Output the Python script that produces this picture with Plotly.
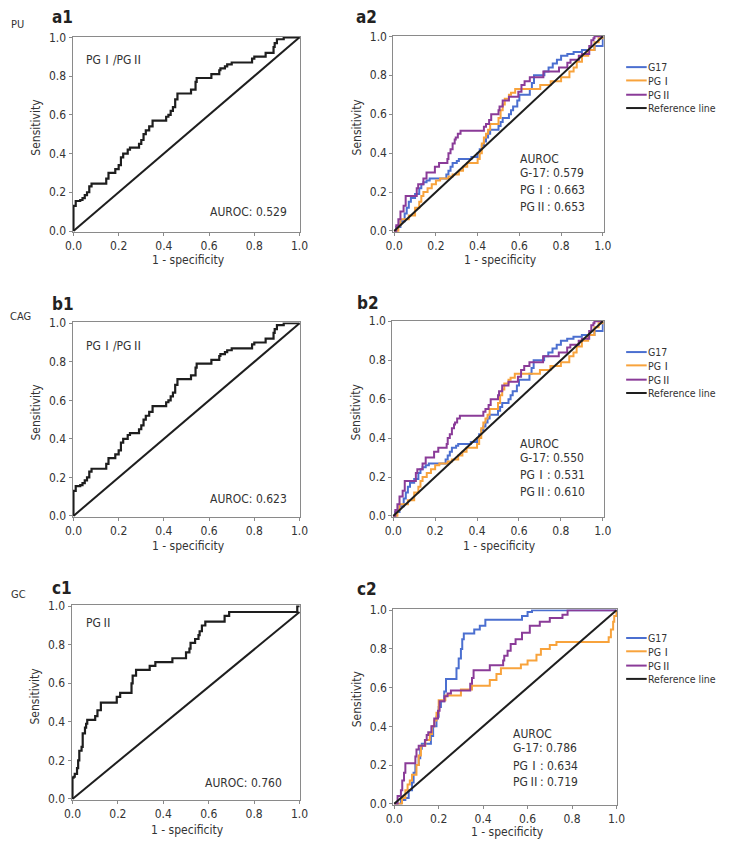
import plotly.graph_objects as go

W, H = 730, 853
FONT = "DejaVu Sans Condensed, DejaVu Sans, sans-serif"
TXT = "#333333"

TICKS = [0, 0.2, 0.4, 0.6, 0.8, 1.0]
TICK_TEXT = ["0.0", "0.2", "0.4", "0.6", "0.8", "1.0"]

REF_X = [0, 1]
REF_Y = [0, 1]
REF_Y_C1 = [0, 0.97]

# a1 / b1 : PG I / PG II
PGR_X = [0, 0, 0.01, 0.03, 0.04, 0.05, 0.06, 0.07, 0.08, 0.145, 0.155, 0.185, 0.2, 0.21, 0.22,
         0.24, 0.25, 0.29, 0.3, 0.31, 0.32, 0.335, 0.35, 0.41, 0.42, 0.43, 0.44, 0.45, 0.46,
         0.52, 0.54, 0.545, 0.61, 0.645, 0.65, 0.67, 0.68, 0.7, 0.79, 0.8, 0.85, 0.885, 0.89,
         0.9, 0.93, 1.0]
PGR_Y = [0, 0.13, 0.155, 0.16, 0.17, 0.185, 0.2, 0.23, 0.245, 0.27, 0.3, 0.32, 0.34, 0.38, 0.4,
         0.42, 0.43, 0.45, 0.47, 0.5, 0.52, 0.54, 0.57, 0.59, 0.6, 0.62, 0.64, 0.68, 0.71,
         0.73, 0.77, 0.79, 0.81, 0.83, 0.84, 0.85, 0.86, 0.87, 0.89, 0.9, 0.92, 0.95, 0.97,
         0.99, 1.0, 1.0]

# a2 / b2
AB_G17_X = [0, 0.01, 0.03, 0.05, 0.06, 0.07, 0.08, 0.1, 0.12, 0.13, 0.14, 0.155, 0.17, 0.25,
            0.26, 0.27, 0.28, 0.3, 0.31, 0.37, 0.4, 0.41, 0.42, 0.43, 0.44, 0.45, 0.46, 0.5,
            0.51, 0.52, 0.55, 0.56, 0.57, 0.59, 0.6, 0.65, 0.66, 0.67, 0.72, 0.74, 0.76, 0.78,
            0.8, 0.83, 0.86, 0.9, 0.96, 1.0]
AB_G17_Y = [0, 0.02, 0.05, 0.09, 0.12, 0.15, 0.17, 0.19, 0.22, 0.24, 0.25, 0.26, 0.27, 0.29,
            0.31, 0.33, 0.35, 0.36, 0.37, 0.38, 0.4, 0.42, 0.44, 0.46, 0.48, 0.5, 0.52, 0.54,
            0.56, 0.58, 0.6, 0.62, 0.64, 0.67, 0.7, 0.73, 0.76, 0.8, 0.82, 0.84, 0.86, 0.88,
            0.9, 0.91, 0.92, 0.93, 0.95, 1.0]
AB_PG1_X = [0, 0.02, 0.03, 0.07, 0.1, 0.12, 0.13, 0.14, 0.16, 0.18, 0.2, 0.22, 0.26, 0.28, 0.31,
            0.33, 0.35, 0.4, 0.41, 0.42, 0.43, 0.44, 0.45, 0.46, 0.5, 0.51, 0.52, 0.53, 0.55,
            0.56, 0.58, 0.7, 0.75, 0.8, 0.84, 0.86, 0.875, 0.9, 0.93, 0.96, 0.98, 1.0]
AB_PG1_Y = [0, 0.03, 0.06, 0.08, 0.12, 0.15, 0.18, 0.2, 0.22, 0.24, 0.26, 0.27, 0.28, 0.29, 0.31,
            0.33, 0.35, 0.37, 0.4, 0.45, 0.48, 0.5, 0.52, 0.55, 0.58, 0.62, 0.65, 0.68, 0.7,
            0.71, 0.73, 0.75, 0.77, 0.79, 0.82, 0.84, 0.87, 0.9, 0.93, 0.97, 0.99, 1.0]
AB_PG2_X = [0, 0.01, 0.02, 0.03, 0.045, 0.055, 0.108, 0.115, 0.14, 0.155, 0.195, 0.215, 0.255,
            0.26, 0.27, 0.28, 0.29, 0.295, 0.305, 0.318, 0.43, 0.44, 0.455, 0.465, 0.5, 0.505,
            0.52, 0.55, 0.595, 0.61, 0.625, 0.65, 0.715, 0.79, 0.83, 0.845, 0.885, 0.9, 0.935,
            0.945, 0.955, 0.96, 1.0]
AB_PG2_Y = [0, 0.03, 0.06, 0.1, 0.13, 0.18, 0.22, 0.24, 0.27, 0.3, 0.33, 0.35, 0.37,
            0.4, 0.42, 0.45, 0.47, 0.48, 0.5, 0.515, 0.535, 0.55, 0.57, 0.6, 0.62, 0.64,
            0.67, 0.69, 0.715, 0.75, 0.77, 0.79, 0.82, 0.84, 0.865, 0.88, 0.9, 0.91, 0.95,
            0.98, 0.99, 1.0, 1.0]

# c1 : PG II
C1_X = [0, 0, 0.005, 0.01, 0.02, 0.025, 0.03, 0.04, 0.045, 0.055, 0.06, 0.065, 0.1, 0.11, 0.125,
        0.195, 0.21, 0.26, 0.265, 0.28, 0.34, 0.365, 0.44, 0.5, 0.515, 0.52, 0.54, 0.555, 0.56,
        0.57, 0.585, 0.67, 0.69, 0.99, 1.0]
C1_Y = [0, 0.11, 0.115, 0.13, 0.16, 0.2, 0.25, 0.27, 0.34, 0.37, 0.39, 0.41, 0.43, 0.46, 0.5,
        0.53, 0.55, 0.6, 0.64, 0.67, 0.69, 0.71, 0.73, 0.76, 0.78, 0.81, 0.83, 0.85, 0.87,
        0.9, 0.92, 0.95, 0.97, 1.0, 1.0]

# c2
C2_G17_X = [0, 0.03, 0.05, 0.065, 0.08, 0.087, 0.095, 0.11, 0.117, 0.124, 0.165, 0.175, 0.19, 0.2,
            0.21, 0.225, 0.233, 0.28, 0.29, 0.3, 0.306, 0.313, 0.36, 0.385, 0.41, 0.575, 0.6,
            0.62, 1.0]
C2_G17_Y = [0, 0.02, 0.03, 0.07, 0.11, 0.16, 0.2, 0.235, 0.285, 0.31, 0.35, 0.4, 0.45, 0.5,
            0.53, 0.58, 0.645, 0.7, 0.75, 0.8, 0.85, 0.88, 0.9, 0.92, 0.95, 0.97, 0.99,
            1.0, 1.0]
C2_PG1_X = [0, 0.035, 0.05, 0.06, 0.07, 0.08, 0.1, 0.11, 0.12, 0.14, 0.16, 0.17, 0.18, 0.19, 0.2,
            0.23, 0.3, 0.35, 0.43, 0.46, 0.48, 0.57, 0.6, 0.64, 0.66, 0.7, 0.73, 0.965, 0.975,
            0.985, 0.99, 1.0]
C2_PG1_Y = [0, 0.03, 0.07, 0.1, 0.12, 0.15, 0.2, 0.25, 0.3, 0.33, 0.36, 0.4, 0.43, 0.47, 0.535,
            0.56, 0.59, 0.61, 0.64, 0.67, 0.7, 0.72, 0.74, 0.77, 0.8, 0.82, 0.835, 0.86, 0.9,
            0.94, 0.97, 1.0]
C2_PG2_X = [0, 0.015, 0.03, 0.036, 0.044, 0.05, 0.095, 0.1, 0.11, 0.138, 0.146, 0.153, 0.167,
            0.18, 0.197, 0.204, 0.226, 0.24, 0.255, 0.342, 0.35, 0.357, 0.43, 0.49, 0.495, 0.51,
            0.524, 0.546, 0.575, 0.61, 0.655, 0.7, 0.757, 0.78, 1.0]
C2_PG2_Y = [0, 0.04, 0.07, 0.12, 0.16, 0.21, 0.245, 0.28, 0.3, 0.33, 0.355, 0.37, 0.4,
            0.44, 0.48, 0.53, 0.555, 0.57, 0.585, 0.62, 0.65, 0.69, 0.715, 0.74, 0.765, 0.79,
            0.825, 0.85, 0.884, 0.92, 0.94, 0.96, 0.976, 1.0, 1.0]

R1 = "<span style=\"font-family:'Noto Sans CJK JP'\">Ⅰ</span>"
R2 = "<span style=\"font-family:'Noto Sans CJK JP'\">Ⅱ</span>"

SERIES = ["G17", "PG Ⅰ", "PG Ⅱ", "Reference line"]
SERIES_LABEL = {"G17": "G17", "PG Ⅰ": "PG" + R1, "PG Ⅱ": "PG" + R2,
                "Reference line": "Reference line"}
COLORS = {"G17": "#4b6fd0", "PG Ⅰ": "#f8a33c", "PG Ⅱ": "#8a3b98", "Reference line": "#1e1e1e"}

AUROC_A1 = "AUROC: 0.529"
AUROC_B1 = "AUROC: 0.623"
AUROC_C1 = "AUROC: 0.760"
AUROC_A2 = ["AUROC", "G-17: 0.579", "PG" + R1 + ": 0.663", "PG" + R2 + ": 0.653"]
AUROC_B2 = ["AUROC", "G-17: 0.550", "PG" + R1 + ": 0.531", "PG" + R2 + ": 0.610"]
AUROC_C2 = ["AUROC", "G-17: 0.786", "PG" + R1 + ": 0.634", "PG" + R2 + ": 0.719"]
LABEL_PGR = "PG" + R1 + "/PG" + R2
LABEL_PG2 = "PG" + R2


def px_x(p):
    return p / W


def px_y(p):
    return 1 - p / H


# panel layout in pixels: (left, right, top, bottom)
PANELS = {
    "a1": (66, 299, 31, 229),
    "a2": (394, 609, 30, 229),
    "b1": (66, 299, 321, 518),
    "b2": (393, 609, 319, 518),
    "c1": (65, 299, 608, 805),
    "c2": (394, 623, 612, 810),
}
ORDER = ["a1", "a2", "b1", "b2", "c1", "c2"]

fig = go.Figure()
layout_axes = {}
annotations = []
shapes = []

for i, name in enumerate(ORDER):
    n = "" if i == 0 else str(i + 1)
    l, r, t, b = PANELS[name]
    common = dict(range=[-0.004, 1.004], tickvals=TICKS, ticktext=TICK_TEXT, ticks="outside",
                  ticklen=3, tickcolor="#8a8a8a", tickwidth=1, showline=True, linecolor="#8a8a8a",
                  linewidth=1, mirror=True, showgrid=False, zeroline=False, fixedrange=True,
                  tickfont=dict(family=FONT, size=12, color=TXT))
    layout_axes["xaxis" + n] = dict(common, domain=[px_x(l), px_x(r)], anchor="y" + n)
    layout_axes["yaxis" + n] = dict(common, domain=[px_y(b), px_y(t)], anchor="x" + n)

AX = {name: ("x" + ("" if i == 0 else str(i + 1)), "y" + ("" if i == 0 else str(i + 1)))
      for i, name in enumerate(ORDER)}


def add_line(panel, xs, ys, color, width=2, shape="hv"):
    xa, ya = AX[panel]
    fig.add_trace(go.Scatter(x=xs, y=ys, mode="lines", xaxis=xa, yaxis=ya,
                             line=dict(color=color, width=width, shape=shape),
                             showlegend=False, hoverinfo="skip"))


# single-curve panels
for p in ["a1", "b1"]:
    add_line(p, REF_X, REF_Y, COLORS["Reference line"], 2, "linear")
    add_line(p, PGR_X, PGR_Y, COLORS["Reference line"], 2.2)
add_line("c1", REF_X, REF_Y_C1, COLORS["Reference line"], 2, "linear")
add_line("c1", C1_X, C1_Y, COLORS["Reference line"], 2.2)

# multi-curve panels
for p in ["a2", "b2"]:
    add_line(p, AB_G17_X, AB_G17_Y, COLORS["G17"])
    add_line(p, AB_PG1_X, AB_PG1_Y, COLORS["PG Ⅰ"])
    add_line(p, AB_PG2_X, AB_PG2_Y, COLORS["PG Ⅱ"])
    add_line(p, REF_X, REF_Y, COLORS["Reference line"], 2, "linear")
add_line("c2", C2_G17_X, C2_G17_Y, COLORS["G17"])
add_line("c2", C2_PG1_X, C2_PG1_Y, COLORS["PG Ⅰ"])
add_line("c2", C2_PG2_X, C2_PG2_Y, COLORS["PG Ⅱ"])
add_line("c2", REF_X, REF_Y, COLORS["Reference line"], 2, "linear")


def ann_paper(text, x, y, size=12, xanchor="left", bold=False, angle=0, yanchor="middle", pad=1):
    annotations.append(dict(text=("<b>%s</b>" % text) if bold else text, xref="paper", yref="paper",
                            x=px_x(x), y=px_y(y), xanchor=xanchor, yanchor=yanchor,
                            showarrow=False, textangle=angle, borderpad=pad,
                            font=dict(family=FONT, size=size, color="#222" if bold else TXT)))


def ann_data(panel, text, x, y, size=12):
    xa, ya = AX[panel]
    annotations.append(dict(text=text, xref=xa, yref=ya, x=x, y=y, xanchor="left",
                            yanchor="middle", showarrow=False, borderpad=0,
                            font=dict(family=FONT, size=size, color=TXT)))


# panel letters and row labels
for name, (x, y) in {"a1": (43, 11), "a2": (354, 11), "b1": (43, 302), "b2": (355, 301),
                     "c1": (43, 590), "c2": (355, 591)}.items():
    ann_paper(name, x, y, size=17, bold=True)
ann_paper("PU", 1, 19, size=11)
ann_paper("CAG", 0, 315, size=11)
ann_paper("GC", 1, 597, size=11)

# axis titles
for name, (yc, xt_y) in {"a1": (123, 258), "a2": (123, 258), "b1": (412, 548),
                         "b2": (412, 548), "c1": (700, 836), "c2": (703, 838)}.items():
    l, r, t, b = PANELS[name]
    ann_paper("Sensitivity", l - 37, yc, size=12, xanchor="center", angle=-90)
    ann_paper("1 - specificity", (l + r) / 2 + 2, xt_y, size=12, xanchor="center", pad=0)

# in-panel texts
ann_data("a1", LABEL_PGR, 0.05, 0.89)
ann_data("a1", AUROC_A1, 0.6, 0.10)
ann_data("b1", LABEL_PGR, 0.05, 0.89)
ann_data("b1", AUROC_B1, 0.6, 0.09)
ann_data("c1", LABEL_PG2, 0.056, 0.92)
ann_data("c1", AUROC_C1, 0.58, 0.08)
for p, lines, x0, ys in [("a2", AUROC_A2, 0.6, [0.37, 0.30, 0.216, 0.13]),
                         ("b2", AUROC_B2, 0.6, [0.37, 0.296, 0.216, 0.13]),
                         ("c2", AUROC_C2, 0.53, [0.36, 0.29, 0.205, 0.12])]:
    for txt, yy in zip(lines, ys):
        ann_data(p, txt, x0, yy)

# legends (manual, compact spacing)
for ys in [[62, 75.5, 90, 103.5], [351, 364.5, 379, 392.5], [641, 654.5, 669, 682.5]]:
    for s, yy in zip(SERIES, ys):
        shapes.append(dict(type="line", xref="paper", yref="paper", x0=px_x(632), x1=px_x(653),
                           y0=px_y(yy), y1=px_y(yy), line=dict(color=COLORS[s], width=2)))
        ann_paper(SERIES_LABEL[s], 653, yy, size=10.5, pad=0)

fig.update_layout(width=W, height=H, autosize=False, margin=dict(l=0, r=0, t=0, b=0),
                  paper_bgcolor="white", plot_bgcolor="white", showlegend=False,
                  annotations=annotations, shapes=shapes, **layout_axes)

fig.write_html("out.html", config={"displayModeBar": False},
               post_script="document.body.style.margin='0';")
